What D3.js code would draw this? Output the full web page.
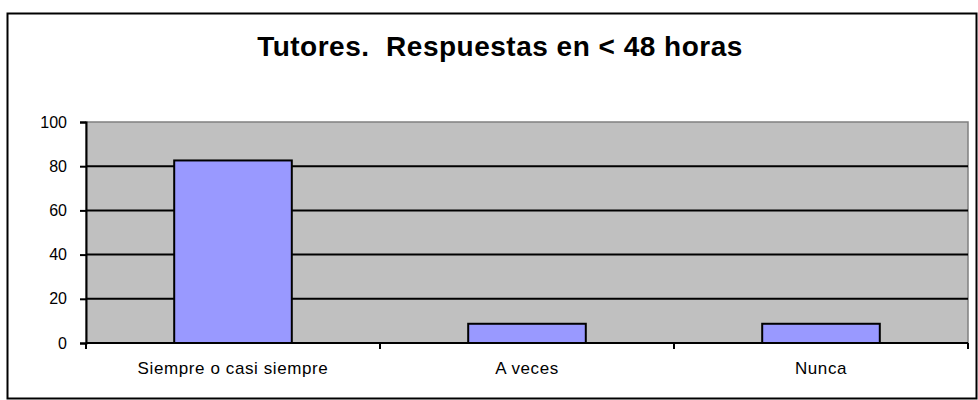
<!DOCTYPE html>
<html>
<head>
<meta charset="utf-8">
<script src="https://cdn.jsdelivr.net/npm/d3@7"></script>
<style>
	body { margin: 0; background: #fff; }
	svg { display: block; font-family: "Liberation Sans", Arial, sans-serif; }
</style>
</head>
<body>
<div id="chart"></div>
<script>
// data
const titleText = "Tutores.  Respuestas en < 48 horas";
const categories = ["Siempre o casi siempre", "A veces", "Nunca"];
const values = [82.6, 8.7, 8.7];
const yTicks = [0, 20, 40, 60, 80, 100];

const width = 978, height = 400;
const margin = { top: 122, right: 10, bottom: 57, left: 86 };
const plotW = 968 - margin.left;
const plotH = 343 - margin.top;

const svg = d3.select("#chart").append("svg")
	.attr("width", width)
	.attr("height", height);

// outer chart border
svg.append("rect")
	.attr("x", 7.5).attr("y", 13.5)
	.attr("width", 969).attr("height", 385)
	.attr("fill", "#fff")
	.attr("stroke", "#000")
	.attr("stroke-width", 2);

svg.append("text")
	.attr("x", 500).attr("y", 56)
	.attr("text-anchor", "middle")
	.attr("font-size", 28)
	.attr("font-weight", "bold")
	.attr("letter-spacing", 0.5)
	.style("white-space", "pre")
	.text(titleText);

const xScale = d3.scaleBand()
	.domain(categories)
	.range([0, plotW])
	.paddingInner(0.6)
	.paddingOuter(0.3);

// boundaries between categories for the x ticks
const xBand = d3.scaleBand().domain(categories).range([0, plotW]);

const yScale = d3.scaleLinear()
	.domain([0, 100])
	.range([plotH, 0]);

const g = svg.append("g")
	.attr("transform", "translate(" + [margin.left, margin.top] + ")");

// plot area
g.append("rect")
	.attr("width", plotW).attr("height", plotH)
	.attr("fill", "#c0c0c0")
	.attr("stroke", "#808080")
	.attr("stroke-width", 1.5);

// gridlines
g.selectAll("line.grid")
	.data(yTicks.filter(d => d > 0 && d < 100))
	.enter().append("line")
	.attr("class", "grid")
	.attr("x1", 0).attr("x2", plotW)
	.attr("y1", d => yScale(d)).attr("y2", d => yScale(d))
	.attr("stroke", "#000")
	.attr("stroke-width", 2);

// bars
g.selectAll("rect.bar")
	.data(values)
	.enter().append("rect")
	.attr("class", "bar")
	.attr("x", (d, i) => xScale(categories[i]))
	.attr("y", d => yScale(d))
	.attr("width", xScale.bandwidth())
	.attr("height", d => plotH - yScale(d))
	.attr("fill", "#9999ff")
	.attr("stroke", "#000")
	.attr("stroke-width", 2);

// y axis
const yAxis = d3.axisLeft(yScale)
	.tickValues(yTicks)
	.tickSize(6)
	.tickPadding(13);

g.append("g")
	.attr("class", "y axis")
	.call(yAxis)
	.call(a => a.select(".domain").attr("stroke-width", 2))
	.call(a => a.selectAll(".tick line").attr("stroke-width", 2))
	.call(a => a.selectAll("text").attr("font-size", 16).attr("fill", "#000")
		.attr("font-family", "Liberation Sans, Arial, sans-serif"));

// x axis: line at 0 with ticks on category boundaries
const xg = g.append("g")
	.attr("class", "x axis")
	.attr("transform", "translate(0," + plotH + ")");

xg.append("line")
	.attr("x1", 0).attr("x2", plotW)
	.attr("stroke", "#000")
	.attr("stroke-width", 2);

const bounds = categories.map(c => xBand(c)).concat([plotW]);
xg.selectAll("line.tick")
	.data(bounds)
	.enter().append("line")
	.attr("class", "tick")
	.attr("x1", d => d).attr("x2", d => d)
	.attr("y1", 0).attr("y2", 6)
	.attr("stroke", "#000")
	.attr("stroke-width", 2);

xg.selectAll("text")
	.data(categories)
	.enter().append("text")
	.attr("x", d => xBand(d) + xBand.bandwidth() / 2)
	.attr("y", 31)
	.attr("text-anchor", "middle")
	.attr("font-size", 17)
	.attr("letter-spacing", 0.6)
	.text(d => d);
</script>
</body>
</html>
